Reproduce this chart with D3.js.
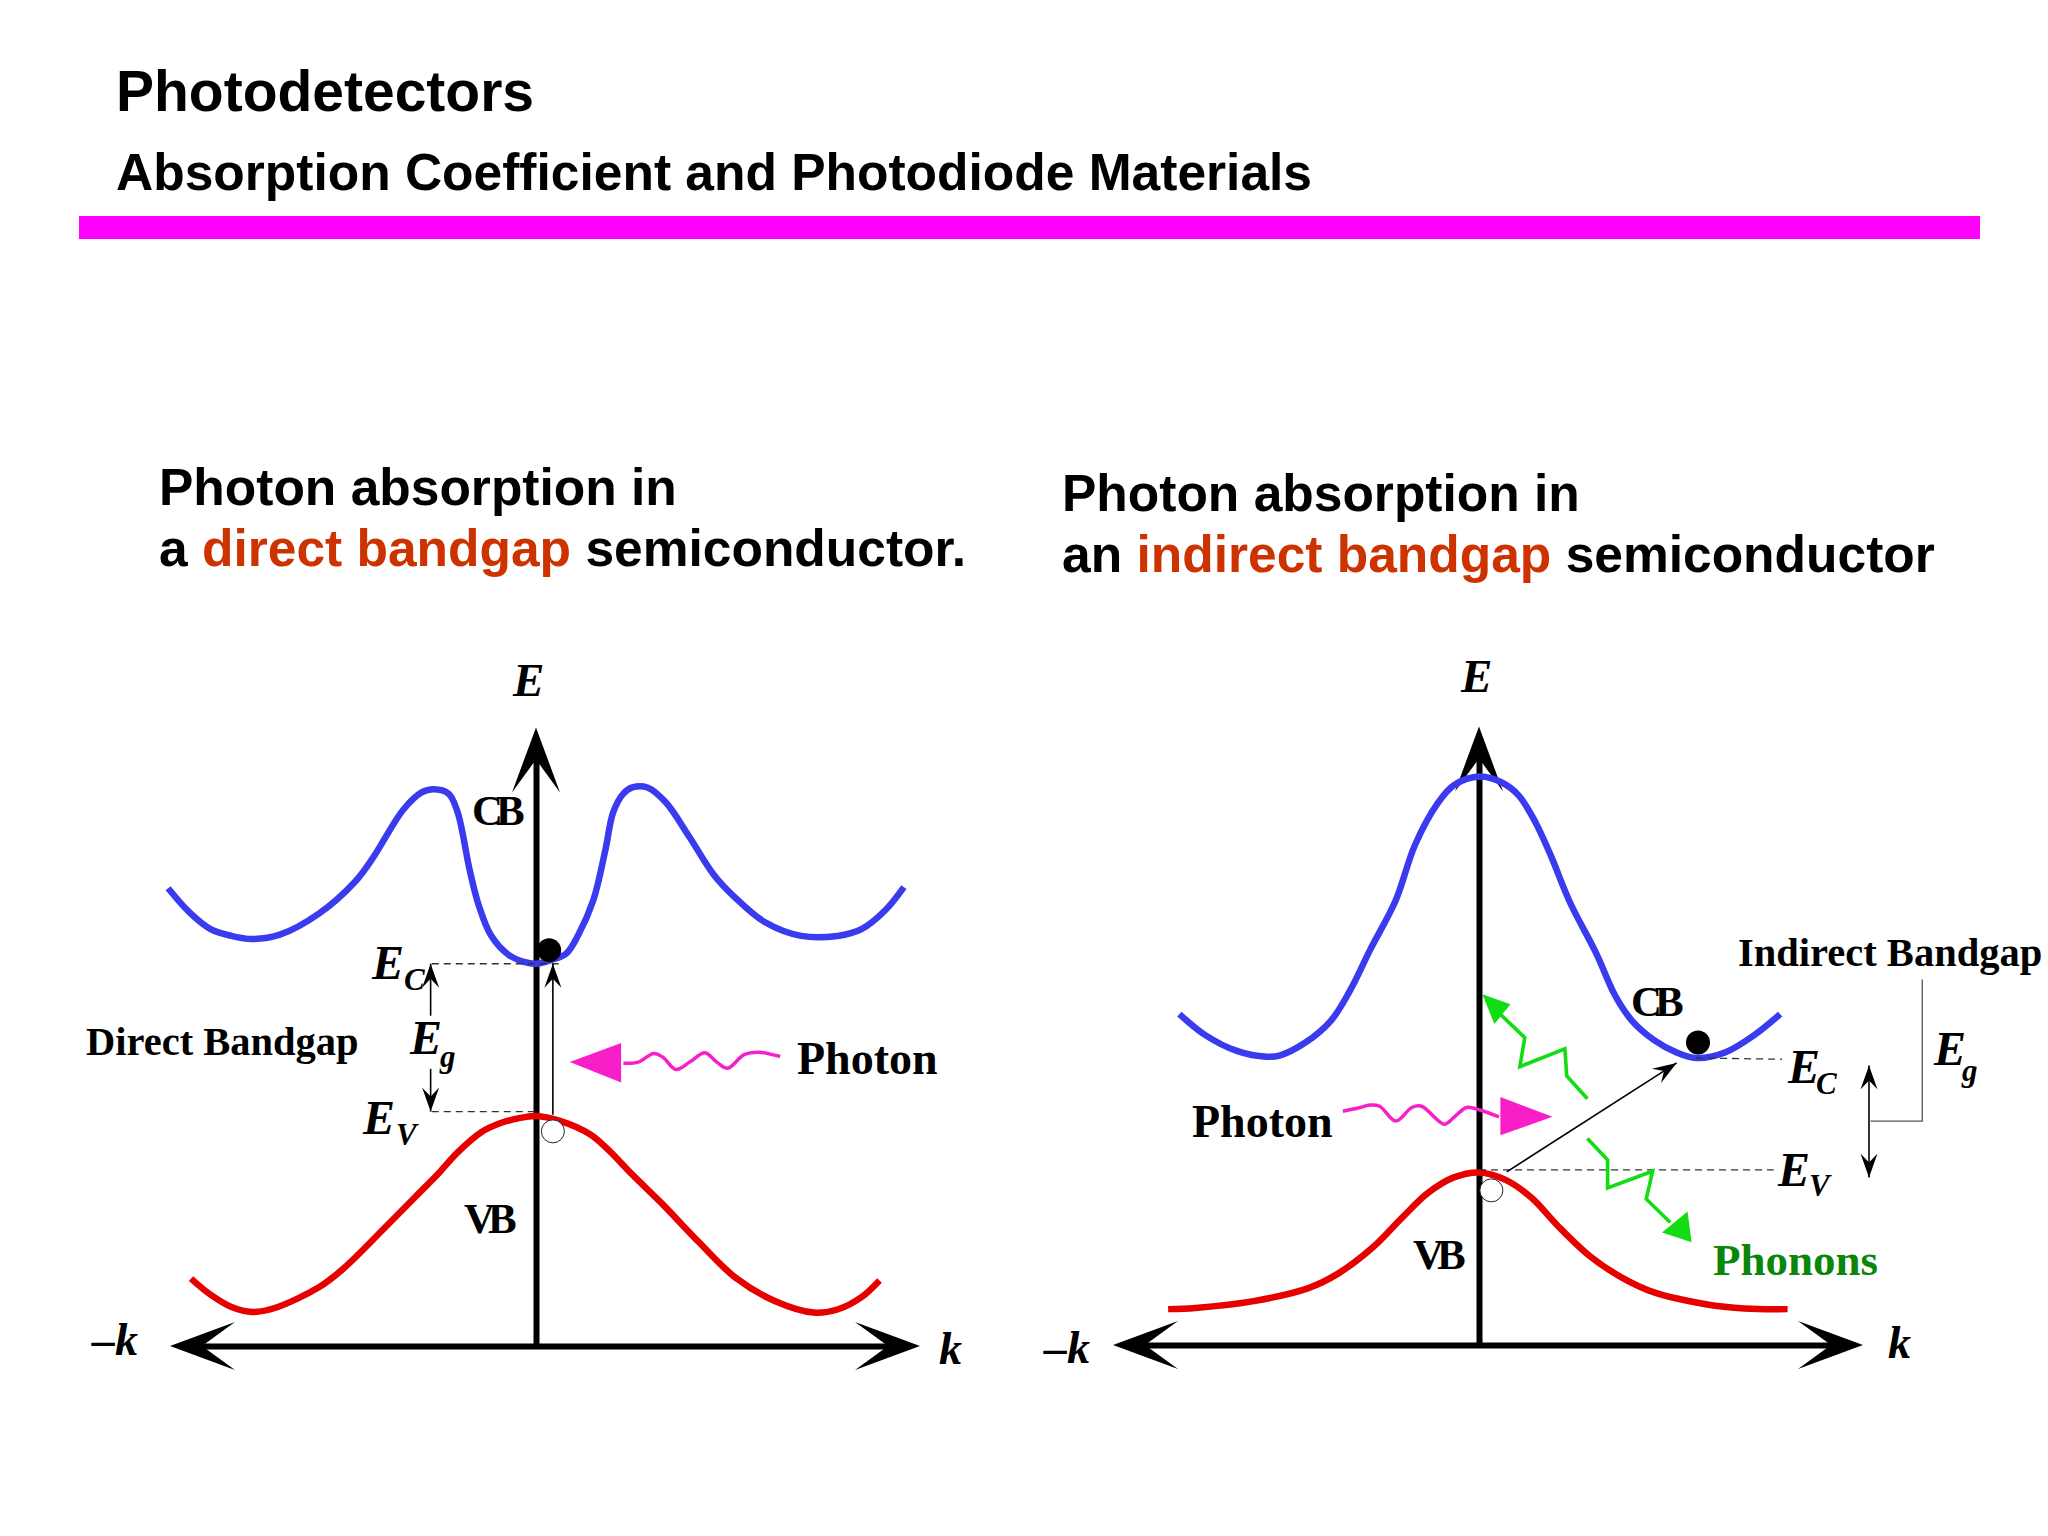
<!DOCTYPE html>
<html>
<head>
<meta charset="utf-8">
<script src="https://cdn.jsdelivr.net/npm/d3@7"></script>
<style>
  html, body { margin: 0; padding: 0; background: #fff; }
  svg { display: block; }
</style>
</head>
<body>
<script>
// band curves, [k, E]; one k unit is the same length in both diagrams, E 0..100 up the axis
var directCB = [[-98.1,74.0],[-92.4,70.1],[-86.8,67.4],[-81.2,66.3],[-75.9,65.8],[-68.3,66.5],[-57.9,69.9],[-48.2,75.1],[-43.4,79.0],[-35.4,86.7],[-30.5,89.5],[-27.3,90.0],[-23.3,89.3],[-20.9,86.3],[-17.7,77.0],[-15.3,71.3],[-12.1,66.5],[-7.2,63.2],[-3.2,62.1],[0,61.8],[4.0,62.4],[8.0,63.4],[11.3,66.5],[15.3,72.1],[18.5,80.2],[20.6,86.3],[23.3,89.3],[25.7,90.3],[29.7,90.3],[34.6,87.9],[41.0,82.2],[47.4,76.2],[53.1,72.5],[61.1,68.5],[70.7,66.3],[80.4,66.3],[86.8,67.4],[93.2,70.5],[98.1,74.2]];
var directVB = [[-92.0,10.9],[-86.8,8.3],[-81.2,6.3],[-75.6,5.5],[-69.9,6.1],[-57.9,9.5],[-51.4,12.5],[-40.2,19.2],[-32.2,24.1],[-25.7,28.1],[-20.9,31.3],[-14.5,34.6],[-9.6,36.0],[-4.8,36.8],[0,37.2],[6.4,36.4],[14.5,34.2],[19.3,31.7],[25.7,27.7],[33.8,22.9],[43.4,16.8],[53.1,11.1],[64.3,7.1],[74.0,5.4],[80.4,5.9],[86.8,7.9],[91.6,10.6]];
var indirectCB = [[-79.9,53.5],[-73.0,50.1],[-64.4,47.5],[-56.7,46.6],[-53.2,46.8],[-46.3,48.9],[-39.4,52.5],[-34.3,57.4],[-29.1,63.8],[-22.2,71.9],[-17.1,80.8],[-11.0,87.6],[-6.7,90.5],[0.2,91.9],[6.2,90.9],[10.5,88.9],[14.8,84.8],[19.1,79.2],[24.3,71.5],[31.2,63.4],[36.3,56.5],[40.7,52.5],[46.7,49.3],[52.7,47.3],[57.9,46.4],[65.6,47.3],[73.4,50.1],[80.3,53.5]];
var indirectVB = [[-82.9,5.8],[-75.6,6.0],[-60.1,7.1],[-45.5,9.2],[-37.7,11.5],[-28.3,15.8],[-20.5,20.6],[-13.6,24.6],[-6.7,27.1],[0,27.9],[7.1,26.7],[14.0,23.8],[20.8,19.4],[29.5,14.4],[38.1,10.9],[46.7,8.5],[60.5,6.6],[70.8,5.9],[82.3,5.8]];

// photons
var directWave = [[23.3,45.7],[27.3,45.9],[31.4,47.3],[33.8,46.7],[37.3,44.7],[41.0,45.9],[45.0,47.4],[48.2,45.9],[51.1,44.9],[55.5,47.1],[59.5,47.5],[65.1,46.8]];
var directHead = [[9.0,45.9],[22.7,49.0],[22.7,42.6]];
var indirectWave = [[-36.3,37.8],[-31.7,38.4],[-29.1,38.8],[-26.5,38.6],[-22.2,36.2],[-17.9,38.4],[-15.3,38.6],[-9.3,35.7],[-6.7,36.8],[-3.3,38.4],[0.2,38.0],[5.3,36.9]];
var indirectHead = [[19.6,36.9],[5.7,40.1],[5.7,33.9]];

// phonons
var phononUp = [[28.9,39.8],[23.4,43.5],[22.9,47.9],[10.9,45.0],[12.2,49.7],[5.3,53.7]];
var phononUpHead = [[0.9,56.7],[8.4,55.1],[4.1,51.9]];
var phononDown = [[28.9,33.4],[34.3,29.9],[34.3,25.4],[46.3,28.1],[44.6,23.6],[51.0,19.8]];
var phononDownHead = [[56.7,16.6],[55.6,21.6],[48.8,18.2]];

// carriers and levels
var directElectron = [3.5, 64.0], directHole = [4.5, 34.7];
var indirectElectron = [58.4, 48.9], indirectHole = [3.3, 25.0];
var directEc = [[-27.8,61.8],[6.4,61.8]], directEv = [[-27.8,37.9],[0,37.9]];
var indirectEc = [[57.9,46.4],[80.8,46.2]], indirectEv = [[0,28.3],[78.6,28.3]];
var bracket = [[104.4,36.2],[118.2,36.2],[118.2,59.1]];

// thin arrows
var directEgUp = [[-28.1,53.4],[-28.1,61.8]], directEgDown = [[-28.1,44.8],[-28.1,37.9]];
var directTransition = [[4.5,37.4],[4.5,61.8]];
var indirectEgBoth = [[104.0,27.1],[104.0,45.2]];
var indirectTransition = [[7.4,28.0],[52.7,45.6]];

var width = 2048;
var height = 1536;
var blue = "#3a3aee", red = "#e60000", magenta = "#f81ec8", green = "#14dc14";
var orange = "#cc3300", darkGreen = "#0a860a";
var sans = "'Liberation Sans', Arial, sans-serif";
var serif = "'Liberation Serif', 'Times New Roman', serif";

var svg = d3.select("body").append("svg")
    .attr("width", width)
    .attr("height", height);

// chevron head for the thin arrows
svg.append("defs").append("marker")
    .attr("id", "head")
    .attr("markerUnits", "userSpaceOnUse")
    .attr("viewBox", "-24 -10 25 20")
    .attr("refX", 0).attr("refY", 0)
    .attr("markerWidth", 25).attr("markerHeight", 20)
    .attr("orient", "auto-start-reverse")
    .append("path")
    .attr("d", "M0,0L-24,-8.5L-15,0L-24,8.5Z")
    .attr("fill", "#000");

function text(x, y, str, size, opts) {
    opts = opts || {};
    return svg.append("text")
        .attr("x", x).attr("y", y)
        .attr("font-family", opts.family || serif)
        .attr("font-weight", "bold")
        .attr("font-style", opts.italic ? "italic" : "normal")
        .attr("font-size", size)
        .attr("letter-spacing", opts.spacing || 0)
        .attr("text-anchor", opts.anchor || "start")
        .attr("fill", opts.fill || "#000")
        .text(str);
}

// title block
text(116, 111, "Photodetectors", 57, {family: sans});
text(116, 190, "Absorption Coefficient and Photodiode Materials", 51.5, {family: sans});

svg.append("rect")
    .attr("x", 79).attr("y", 216)
    .attr("width", 1901).attr("height", 23)
    .attr("fill", "#ff00ff");

function heading(x, y, first, before, colored, after) {
    text(x, y, first, 51.5, {family: sans});
    var t = text(x, y + 61, before, 51.5, {family: sans});
    t.append("tspan").attr("fill", orange).text(colored);
    t.append("tspan").text(after);
}
heading(159, 505, "Photon absorption in", "a ", "direct bandgap", " semiconductor.");
heading(1062, 511, "Photon absorption in", "an ", "indirect bandgap", " semiconductor");

// one band diagram: axes and band curves
function panel(x0, y0, cb, vb) {
    var x = d3.scaleLinear().domain([-90, 95]).range([x0 - 337.5, x0 + 356.25]);
    var y = d3.scaleLinear().domain([0, 96]).range([y0, y0 - 593.8]);
    var g = svg.append("g");
    var line = d3.line().x(d => x(d[0])).y(d => y(d[1]));
    var smooth = d3.line().x(d => x(d[0])).y(d => y(d[1])).curve(d3.curveCatmullRom.alpha(0.5));

    // axes without ticks, the lines stop inside the arrow tips
    g.append("g")
        .attr("transform", "translate(0," + y0 + ")")
        .call(d3.axisBottom(x).tickValues([]).tickSizeOuter(0));
    g.append("g")
        .attr("transform", "translate(" + x(0) + ",0)")
        .call(d3.axisLeft(y).tickValues([]).tickSizeOuter(0));
    g.selectAll(".domain").attr("stroke", "#000").attr("stroke-width", 6);

    function tip(px, py, angle) {
        g.append("path")
            .attr("transform", "translate(" + px + "," + py + ") rotate(" + angle + ")")
            .attr("d", "M0,0L-65,-24L-32,0L-65,24Z")
            .attr("fill", "#000");
    }
    tip(x(102.4), y0, 0);
    tip(x(-97.6), y0, 180);
    tip(x(0), y(100), -90);

    g.append("path").attr("d", smooth(vb)).attr("fill", "none").attr("stroke", red).attr("stroke-width", 6.5);
    g.append("path").attr("d", smooth(cb)).attr("fill", "none").attr("stroke", blue).attr("stroke-width", 6.5);

    return {g: g, x: x, y: y, line: line, smooth: smooth};
}

function dashed(p, pts) {
    p.g.append("path").attr("d", p.line(pts)).attr("fill", "none")
        .attr("stroke", "#333").attr("stroke-width", 1.3).attr("stroke-dasharray", "7,5");
}
function arrow(p, pts, both) {
    var a = p.g.append("path").attr("d", p.line(pts)).attr("fill", "none")
        .attr("stroke", "#000").attr("stroke-width", 1.6)
        .attr("marker-end", "url(#head)");
    if (both) a.attr("marker-start", "url(#head)");
}
function carrier(p, at, fill) {
    p.g.append("circle")
        .attr("cx", p.x(at[0])).attr("cy", p.y(at[1]))
        .attr("r", fill == "#000" ? 12 : 11.5)
        .attr("fill", fill)
        .attr("stroke", "#222").attr("stroke-width", fill == "#000" ? 0 : 1);
}
function squiggle(p, wave, head, color, w, curved) {
    p.g.append("path").attr("d", (curved ? p.smooth : p.line)(wave)).attr("fill", "none")
        .attr("stroke", color).attr("stroke-width", w);
    p.g.append("path").attr("d", p.line(head) + "Z").attr("fill", color);
}

// direct bandgap
var left = panel(536, 1346, directCB, directVB);
dashed(left, directEc);
dashed(left, directEv);
arrow(left, directEgUp);
arrow(left, directEgDown);
arrow(left, directTransition);
carrier(left, directElectron, "#000");
carrier(left, directHole, "#fff");
squiggle(left, directWave, directHead, magenta, 3.5, true);

// indirect bandgap
var right = panel(1479, 1345, indirectCB, indirectVB);
dashed(right, indirectEc);
dashed(right, indirectEv);
arrow(right, indirectTransition);
arrow(right, indirectEgBoth, true);
right.g.append("path").attr("d", right.line(bracket)).attr("fill", "none")
    .attr("stroke", "#555").attr("stroke-width", 1.3);
carrier(right, indirectElectron, "#000");
carrier(right, indirectHole, "#fff");
squiggle(right, indirectWave, indirectHead, magenta, 3.5, true);
squiggle(right, phononUp, phononUpHead, green, 3.6, false);
squiggle(right, phononDown, phononDownHead, green, 3.6, false);

// labels, left diagram
var it = {italic: true};
text(513, 696, "E", 47, it);
text(472, 825, "CB", 43, {spacing: -7});
text(464, 1233, "VB", 43, {spacing: -7});
text(372, 979, "E", 48, it);
text(404, 990, "C", 31, it);
text(410, 1054, "E", 48, it);
text(440, 1067, "g", 31, it);
text(363, 1134, "E", 48, it);
text(396, 1145, "V", 31, it);
text(86, 1055, "Direct Bandgap", 40.5);
text(797, 1074, "Photon", 46);
text(92, 1355, "\u2013k", 46, it);
text(939, 1364, "k", 46, it);

// labels, right diagram
text(1461, 692, "E", 47, it);
text(1631, 1016, "CB", 43, {spacing: -7});
text(1413, 1269, "VB", 43, {spacing: -7});
text(1788, 1083, "E", 48, it);
text(1816, 1094, "C", 31, it);
text(1778, 1186, "E", 48, it);
text(1809, 1196, "V", 31, it);
text(1934, 1065, "E", 48, it);
text(1962, 1081, "g", 31, it);
text(1738, 966, "Indirect Bandgap", 40.5);
text(1192, 1137, "Photon", 46);
text(1713, 1275, "Phonons", 45, {fill: darkGreen});
text(1044, 1363, "\u2013k", 46, it);
text(1888, 1358, "k", 46, it);
</script>
</body>
</html>
